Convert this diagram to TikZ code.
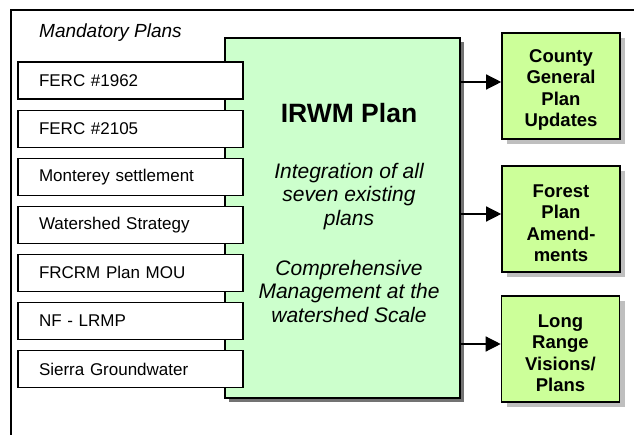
\documentclass[tikz,border=0pt]{standalone}
\usepackage{fontspec}
\setmainfont{Liberation Sans}
\usetikzlibrary{positioning, chains, arrows.meta, shadows}
\definecolor{irwmgreen}{RGB}{204,255,204}
\definecolor{outgreen}{RGB}{204,255,153}

\begin{document}
\begin{tikzpicture}[x=1pt, y=-1pt, start chain=1 going below, node distance=10pt,
	plan/.style={draw, line width=1.1pt, fill=white, minimum width=225pt, minimum height=37pt, text width=183pt, inner xsep=21pt, align=left, font=\fontsize{17}{20}\selectfont},
	outbox/.style={draw, line width=1.6pt, fill=outgreen, minimum width=118pt, minimum height=106pt, inner sep=0pt, align=center, font=\fontsize{18.5}{21.5}\selectfont\bfseries, drop shadow={shadow xshift=5pt, shadow yshift=-5pt, fill=gray!50, opacity=1}},
	arr/.style={line width=1.3pt, -{Triangle[length=15pt, width=15pt]}}]
	\useasboundingbox (0,0) rectangle (634,435);
	\draw[line width=1.3pt] (11,435) -- (11,10) -- (634,10);
	\node[anchor=base west, inner sep=0pt, font=\fontsize{19}{22}\selectfont\itshape] (mand) at (39,38) {Mandatory Plans};
	\node[draw, line width=1.5pt, fill=irwmgreen, minimum width=235pt, minimum height=360pt, drop shadow={shadow xshift=4pt, shadow yshift=-4pt, fill=black!55, opacity=1}] (irwm) at (342.5,218) {};
	\node[plan, on chain=1] (ferca) at (130.5,80.5) {\raisebox{-4pt}{FERC \#1962}};
	\node[plan, on chain=1] (fercb) {\raisebox{-4pt}{FERC \#2105}};
	\node[plan, on chain=1] (mont) {\raisebox{-4pt}{Monterey settlement}};
	\node[plan, on chain=1] (wshed) {\raisebox{-4pt}{Watershed Strategy}};
	\node[plan, on chain=1] (frcrm) {\raisebox{-4pt}{FRCRM Plan MOU}};
	\node[plan, on chain=1] (lrmp) {\raisebox{-4pt}{NF - LRMP}};
	\node[plan, on chain=1] (sierra) {\raisebox{-4pt}{Sierra Groundwater}};
	\node[font=\fontsize{26.5}{30}\selectfont\bfseries] (title) at (349,113) {IRWM Plan};
	\node[anchor=north, inner sep=0pt, align=center, font=\fontsize{21}{23.5}\selectfont\itshape] (desc) at (349,163) {Integration of all\\seven existing\\plans\\[26.5pt]Comprehensive\\Management at the\\watershed Scale};
	\node[outbox] (cgp) at (561,86) {\rule{0pt}{21pt}County\\General\\Plan\\Updates};
	\node[outbox] (fpa) at (561,219) {\rule{0pt}{21pt}Forest\\Plan\\Amend-\\ments};
	\node[outbox] (lrv) at (560.5,349) {\rule{0pt}{21pt}Long\\Range\\Visions/\\Plans};
	\draw[arr] ([yshift=4pt]cgp.west -| irwm.east) -- ([yshift=4pt]cgp.west);
	\draw[arr] ([yshift=5pt]fpa.west -| irwm.east) -- ([yshift=5pt]fpa.west);
	\draw[arr] ([yshift=5pt]lrv.west -| irwm.east) -- ([yshift=5pt]lrv.west);
\end{tikzpicture}
\end{document}
